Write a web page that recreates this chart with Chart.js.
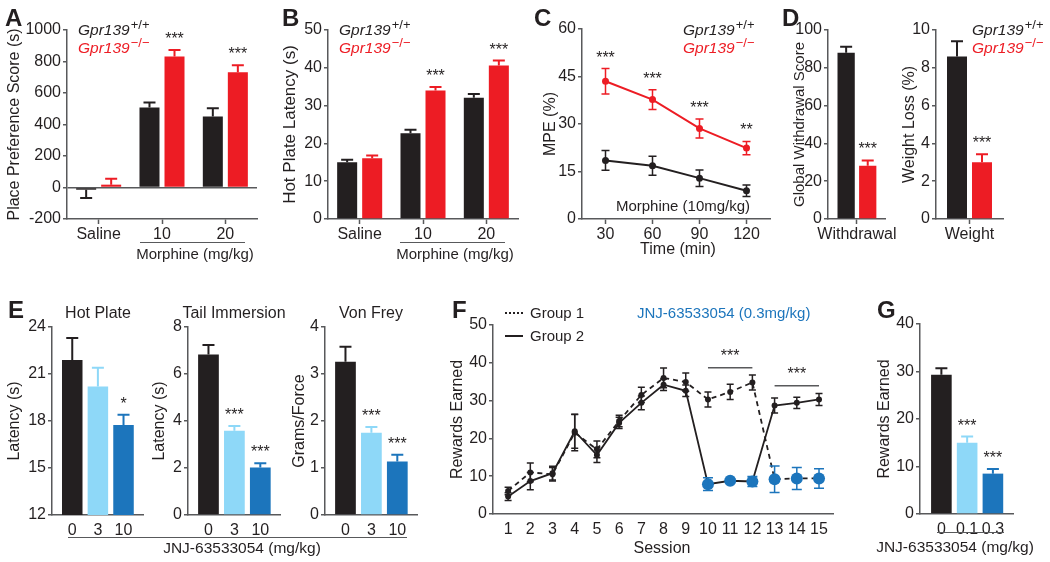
<!DOCTYPE html>
<html>
<head>
<meta charset="utf-8">
<script src="https://cdn.jsdelivr.net/npm/chart.js@4.4.1/dist/chart.umd.min.js"></script>
<style>
html,body{margin:0;padding:0;background:#fff;}
#fig{position:relative;width:1050px;height:562px;overflow:hidden;background:#fff;font-family:"Liberation Sans",Arial,Helvetica,sans-serif;color:#231f20;}
#fig canvas{position:absolute;}
.t{position:absolute;white-space:nowrap;line-height:1;}
.sup{font-size:13px;position:relative;top:-6px;margin-left:1px;font-style:normal;}
.ln{position:absolute;height:0;}
</style>
</head>
<body>
<div id="fig"></div>
<script>
// ================= DATA =================
// Panel A: place preference score (s)
const morphineCats = ['Saline', '10', '20'];
const placePrefWT = [-14, 508, 451];
const placePrefWTErr = [53, 31, 52];
const placePrefKO = [18, 831, 732];
const placePrefKOErr = [38, 42, 44];
const placePrefSig = ['', '***', '***'];
// Panel B: hot plate latency (s)
const hotPlateWT = [15.0, 22.7, 32.1];
const hotPlateWTErr = [0.7, 0.9, 1.0];
const hotPlateKO = [16.1, 34.0, 40.6];
const hotPlateKOErr = [0.7, 0.9, 1.3];
const hotPlateSig = ['', '***', '***'];
// Panel C: MPE (%) over time
const mpeTimes = [30, 60, 90, 120];
const mpeWT = [18.5, 16.8, 12.9, 8.9];
const mpeWTErr = [3.1, 3.0, 2.6, 1.8];
const mpeKO = [43.5, 37.7, 28.6, 22.4];
const mpeKOErr = [4.0, 3.1, 3.0, 2.1];
const mpeSig = ['***', '***', '***', '**'];
// Panel D: withdrawal
const withdrawalCats = ['Withdrawal'];
const withdrawalWT = [88.0];
const withdrawalWTErr = [3.2];
const withdrawalKO = [28.2];
const withdrawalKOErr = [2.8];
const withdrawalSig = ['***'];
const weightCats = ['Weight'];
const weightLossWT = [8.6];
const weightLossWTErr = [0.8];
const weightLossKO = [3.0];
const weightLossKOErr = [0.42];
const weightLossSig = ['***'];
// Panel E: JNJ-63533054 doses
const jnjDosesE = ['0', '3', '10'];
const eHotPlate = [21.9, 20.2, 17.75];
const eHotPlateErr = [1.4, 1.2, 0.65];
const eHotPlateSig = ['', '', '*'];
const eTail = [6.83, 3.58, 2.02];
const eTailErr = [0.4, 0.21, 0.18];
const eTailSig = ['', '***', '***'];
const eVonFrey = [3.26, 1.75, 1.14];
const eVonFreyErr = [0.32, 0.12, 0.14];
const eVonFreySig = ['', '***', '***'];
// Panel F: rewards earned per session
const sessions = [1, 2, 3, 4, 5, 6, 7, 8, 9, 10, 11, 12, 13, 14, 15];
const group1 = [6.1, 11.0, 10.5, 21.5, 17.1, 24.6, 31.5, 36.0, 34.9, 30.3, 32.3, 34.8, 9.2, 9.4, 9.4];
const group1Err = [1.0, 2.5, 1.8, 4.8, 2.2, 1.5, 2.0, 2.6, 2.4, 2.0, 2.0, 2.0, 3.5, 2.9, 2.6];
const group1Drug = [0, 0, 0, 0, 0, 0, 0, 0, 0, 0, 0, 0, 1, 1, 1];
const group2 = [4.6, 8.7, 10.8, 21.9, 15.6, 24.1, 29.4, 34.2, 32.6, 7.9, 8.8, 8.6, 28.7, 29.4, 30.3];
const group2Err = [1.0, 2.3, 1.8, 4.5, 2.0, 1.5, 1.8, 1.5, 1.5, 1.7, 0.5, 1.3, 2.0, 1.5, 1.6];
const group2Drug = [0, 0, 0, 0, 0, 0, 0, 0, 0, 1, 1, 1, 0, 0, 0];
const sigBracketsF = [{from: 10, to: 12, y: 38.7, label: '***'}, {from: 13, to: 15, y: 33.9, label: '***'}];
// Panel G
const jnjDosesG = ['0', '0.1', '0.3'];
const gRewards = [29.3, 15.0, 8.5];
const gRewardsErr = [1.4, 1.3, 1.0];
const gRewardsSig = ['', '***', '***'];

// ================= STYLE =================
const FONT = '"Liberation Sans", Arial, Helvetica, sans-serif';
const axisC = '#58595b', txtC = '#231f20', black = '#231f20', red = '#ed1c24', lblue = '#8ed8f8', dblue = '#1c75bc';
Chart.defaults.font.family = FONT;
Chart.defaults.color = txtC;
const fig = document.getElementById('fig');

const errPlugin = {
  id: 'errBars',
  afterDatasetsDraw(chart) {
    const ctx = chart.ctx, ys = chart.scales.y;
    chart.data.datasets.forEach((ds, di) => {
      if (!ds.err) return;
      const meta = chart.getDatasetMeta(di);
      meta.data.forEach((el, i) => {
        const raw = ds.data[i];
        const v = (raw !== null && typeof raw === 'object') ? raw.y : raw;
        const e = ds.err[i];
        const col = Array.isArray(ds.errColor) ? ds.errColor[i] : ds.errColor;
        const cap = Array.isArray(ds.errCap) ? ds.errCap[i] : ds.errCap;
        const x = el.x;
        const pv = ys.getPixelForValue(v);
        const pHi = ys.getPixelForValue(v + e), pLo = ys.getPixelForValue(v - e);
        ctx.save();
        ctx.strokeStyle = col; ctx.lineWidth = ds.errWidth || 2;
        const ends = ds.errMode === 'both' ? [pHi, pLo] : [v >= 0 ? pHi : pLo];
        ctx.beginPath();
        ends.forEach(pe => {
          ctx.moveTo(x, pv); ctx.lineTo(x, pe);
          ctx.moveTo(x - cap, pe); ctx.lineTo(x + cap, pe);
        });
        ctx.stroke();
        if (ds.sig && ds.sig[i]) {
          ctx.fillStyle = txtC; ctx.font = '16px ' + FONT;
          ctx.textAlign = 'center'; ctx.textBaseline = 'alphabetic';
          ctx.fillText(ds.sig[i], x, Math.min(pHi, pv) - 6);
        }
        ctx.restore();
      });
    });
  }
};

function makeChart(box, area, config) {
  const c = document.createElement('canvas');
  c.width = box.w; c.height = box.h;
  c.style.left = box.x + 'px'; c.style.top = box.y + 'px';
  c.style.width = box.w + 'px'; c.style.height = box.h + 'px';
  fig.appendChild(c);
  const xH = box.y + box.h - area.b, yW = area.l - box.x;
  const o = config.options;
  o.responsive = false; o.maintainAspectRatio = false; o.animation = false; o.devicePixelRatio = 1;
  o.layout = {padding: {left: 0, top: area.t - box.y, right: box.x + box.w - area.r, bottom: 0}};
  o.plugins = Object.assign({legend: {display: false}, tooltip: {enabled: false}}, o.plugins || {});
  o.scales.x.afterFit = s => { s.height = xH; };
  o.scales.y.afterFit = s => { s.width = yW; };
  config.plugins = [errPlugin].concat(config.plugins || []);
  return new Chart(c, config);
}

function yAxis(min, max, step, title, titleX, boxX, zeroLine, titleSize) {
  const ts = titleSize || 16;
  return {
    type: 'linear', min: min, max: max,
    ticks: {stepSize: step, font: {size: 16}, color: txtC, padding: 2, callback: v => String(v)},
    grid: {display: true, drawOnChartArea: !!zeroLine, drawTicks: true, tickLength: 4, tickWidth: 1.5, tickColor: axisC,
      color: zeroLine ? (c => (c.tick && c.tick.value === 0) ? axisC : 'rgba(0,0,0,0)') : axisC, lineWidth: 1.5},
    border: {display: true, color: axisC, width: 1.5},
    title: {display: true, text: title, color: txtC, font: {size: ts}, padding: {top: titleX - boxX - ts * 0.6, bottom: 0}}
  };
}
function xCat(ticksOn) {
  return {
    type: 'category', offset: true,
    grid: {display: true, offset: false, drawOnChartArea: false, drawTicks: ticksOn, tickLength: 5, tickWidth: 1.5, tickColor: axisC, color: axisC},
    border: {display: true, color: axisC, width: 1.5},
    ticks: {font: {size: 16}, color: txtC, padding: ticksOn ? 1 : 6, maxRotation: 0, autoSkip: false}
  };
}
function xLin(min, max, vals, labels, ticksOn) {
  return {
    type: 'linear', min: min, max: max, offset: false,
    afterBuildTicks: s => { s.ticks = vals.map(v => ({value: v})); },
    grid: {display: true, offset: false, drawOnChartArea: false, drawTicks: ticksOn, tickLength: 5, tickWidth: 1.5, tickColor: axisC, color: axisC},
    border: {display: true, color: axisC, width: 1.5},
    ticks: {font: {size: 16}, color: txtC, padding: ticksOn ? 1 : 6, maxRotation: 0, autoSkip: false,
      callback: (v, i) => labels[i]}
  };
}
function barDs(data, color, err, sig, catPct) {
  return {data: data, backgroundColor: color, borderWidth: 0, categoryPercentage: catPct, barPercentage: 0.8,
    err: err, errColor: color, errCap: 6, errMode: 'up', errWidth: 2, sig: sig};
}
function idx(arr) { return arr.map((v, i) => ({x: i, y: v})); }
function pts(xs, ys) { return xs.map((x, i) => ({x: x, y: ys[i]})); }

// ----- Panel A -----
makeChart({x: 0, y: 5, w: 262, h: 243}, {l: 67, r: 257, t: 30, b: 219}, {
  type: 'bar',
  data: {labels: morphineCats, datasets: [
    barDs(placePrefWT, black, placePrefWTErr, null, 0.79),
    barDs(placePrefKO, red, placePrefKOErr, placePrefSig, 0.79)]},
  options: {scales: {x: xCat(true), y: yAxis(-200, 1000, 200, 'Place Preference Score (s)', 15, 0, true)}}
});
// ----- Panel B -----
makeChart({x: 262, y: 5, w: 262, h: 243}, {l: 328, r: 518, t: 30, b: 219}, {
  type: 'bar',
  data: {labels: morphineCats, datasets: [
    barDs(hotPlateWT, black, hotPlateWTErr, null, 0.79),
    barDs(hotPlateKO, red, hotPlateKOErr, hotPlateSig, 0.79)]},
  options: {scales: {x: xCat(true), y: yAxis(0, 50, 10, 'Hot Plate Latency (s)', 290, 262, false, 17)}}
});
// ----- Panel C -----
function lineDs(data, color, err, sig) {
  return {data: data, borderColor: color, backgroundColor: color, borderWidth: 2, pointRadius: 3.5, pointBorderWidth: 0,
    pointBackgroundColor: color, tension: 0, err: err, errColor: color, errCap: 4, errMode: 'both', errWidth: 1.5, sig: sig};
}
makeChart({x: 524, y: 5, w: 256, h: 243}, {l: 582, r: 770, t: 29, b: 219}, {
  type: 'line',
  data: {datasets: [
    lineDs(pts(mpeTimes, mpeWT), black, mpeWTErr, null),
    lineDs(pts(mpeTimes, mpeKO), red, mpeKOErr, mpeSig)]},
  options: {scales: {x: xLin(15, 135, mpeTimes, mpeTimes.map(String), true), y: yAxis(0, 60, 15, 'MPE (%)', 551, 524)}}
});
// ----- Panel D -----
makeChart({x: 780, y: 5, w: 120, h: 243}, {l: 828, r: 895, t: 30, b: 219}, {
  type: 'bar',
  data: {labels: withdrawalCats, datasets: [
    barDs(withdrawalWT, black, withdrawalWTErr, null, 0.746),
    barDs(withdrawalKO, red, withdrawalKOErr, withdrawalSig, 0.746)]},
  options: {scales: {x: xCat(true), y: yAxis(0, 100, 20, 'Global Withdrawal Score', 800, 780, false, 15)}}
});
makeChart({x: 900, y: 5, w: 150, h: 243}, {l: 936, r: 1003, t: 30, b: 219}, {
  type: 'bar',
  data: {labels: weightCats, datasets: [
    barDs(weightLossWT, black, weightLossWTErr, null, 0.746),
    barDs(weightLossKO, red, weightLossKOErr, weightLossSig, 0.746)]},
  options: {scales: {x: xCat(true), y: yAxis(0, 10, 2, 'Weight Loss (%)', 910, 900)}}
});
// ----- Panel E -----
const eColors = [black, lblue, dblue];
function eChart(box, area, vals, errs, sig, ymin, ymax, step, title, titleX) {
  const ds = barDs(idx(vals), eColors, errs, sig, 1);
  makeChart(box, area, {
    type: 'bar', data: {datasets: [ds]},
    options: {scales: {x: xLin(-0.79, 2.76, [0, 1, 2], jnjDosesE, false), y: yAxis(ymin, ymax, step, title, titleX, box.x)}}
  });
}
eChart({x: 0, y: 300, w: 145, h: 245}, {l: 52, r: 143, t: 327, b: 515}, eHotPlate, eHotPlateErr, eHotPlateSig, 12, 24, 3, 'Latency (s)', 15);
eChart({x: 145, y: 300, w: 140, h: 245}, {l: 188, r: 280, t: 327, b: 515}, eTail, eTailErr, eTailSig, 0, 8, 2, 'Latency (s)', 160);
eChart({x: 285, y: 300, w: 135, h: 245}, {l: 325, r: 417, t: 327, b: 515}, eVonFrey, eVonFreyErr, eVonFreySig, 0, 4, 1, 'Grams/Force', 300);
// ----- Panel F -----
function fDs(vals, errs, drug, dash) {
  return {data: pts(sessions, vals), borderColor: black, borderWidth: 1.8, borderDash: dash, tension: 0,
    pointRadius: drug.map(d => d ? 6 : 3), pointBorderWidth: 0, pointBorderColor: 'rgba(0,0,0,0)',
    pointBackgroundColor: drug.map(d => d ? dblue : black),
    err: errs, errColor: drug.map(d => d ? dblue : black), errCap: drug.map(d => d ? 5 : 3.5), errMode: 'both', errWidth: 1.5};
}
const bracketPlugin = {
  id: 'brackets',
  afterDatasetsDraw(chart) {
    const ctx = chart.ctx, xs = chart.scales.x, ys = chart.scales.y;
    sigBracketsF.forEach(b => {
      const x1 = xs.getPixelForValue(b.from), x2 = xs.getPixelForValue(b.to), y = ys.getPixelForValue(b.y);
      ctx.save();
      ctx.strokeStyle = axisC; ctx.lineWidth = 1.5;
      ctx.beginPath(); ctx.moveTo(x1, y); ctx.lineTo(x2, y); ctx.stroke();
      ctx.fillStyle = txtC; ctx.font = '16px ' + FONT; ctx.textAlign = 'center'; ctx.textBaseline = 'alphabetic';
      ctx.fillText(b.label, (x1 + x2) / 2, y - 7);
      ctx.restore();
    });
  }
};
makeChart({x: 420, y: 300, w: 420, h: 245}, {l: 493, r: 833, t: 325, b: 514}, {
  type: 'line',
  data: {datasets: [fDs(group1, group1Err, group1Drug, [5, 4]), fDs(group2, group2Err, group2Drug, [])]},
  options: {scales: {x: xLin(0.32, 15.63, sessions, sessions.map(String), false), y: yAxis(0, 50, 10, 'Rewards Earned', 458, 420)}},
  plugins: [bracketPlugin]
});
// ----- Panel G -----
makeChart({x: 860, y: 300, w: 190, h: 245}, {l: 920, r: 1013, t: 324, b: 514}, {
  type: 'bar',
  data: {datasets: [barDs(idx(gRewards), eColors, gRewardsErr, gRewardsSig, 1)]},
  options: {scales: {x: xLin(-0.83, 2.78, [0, 1, 2], jnjDosesG, false), y: yAxis(0, 40, 10, 'Rewards Earned', 885, 860)}}
});

// ================= TEXT =================
function txt(html, x, base, size, o) {
  o = o || {};
  const d = document.createElement('div');
  d.className = 't';
  d.innerHTML = html;
  d.style.fontSize = size + 'px';
  d.style.top = (base - 0.8465 * size) + 'px';
  d.style.left = x + 'px';
  if (o.center) d.style.transform = 'translateX(-50%)';
  if (o.bold) d.style.fontWeight = 'bold';
  if (o.color) d.style.color = o.color;
  fig.appendChild(d);
}
function hline(x1, x2, y, style) {
  const d = document.createElement('div');
  d.className = 'ln';
  d.style.left = x1 + 'px'; d.style.width = (x2 - x1) + 'px'; d.style.top = (y - 0.75) + 'px';
  d.style.borderTop = style || ('1.5px solid ' + axisC);
  fig.appendChild(d);
}
// panel letters
[['A', 5, 26], ['B', 282, 26], ['C', 534, 26], ['D', 782, 26], ['E', 8, 318], ['F', 452, 318], ['G', 877, 318]]
  .forEach(l => txt(l[0], l[1], l[2], 24, {bold: true}));
// genotype legends
[78, 339, 683, 972].forEach(x => {
  txt('<i>Gpr139</i><span class="sup">+/+</span>', x, 35, 15.5);
  txt('<i>Gpr139</i><span class="sup">\u2212/\u2212</span>', x, 53, 15.5, {color: red});
});
// A/B group labels
hline(140, 245, 243); txt('Morphine (mg/kg)', 195, 259, 15, {center: true});
hline(400, 505, 243); txt('Morphine (mg/kg)', 455, 259, 15, {center: true});
// C
txt('Morphine (10mg/kg)', 683, 211, 15, {center: true});
txt('Time (min)', 678, 255, 16, {center: true});
// E
txt('Hot Plate', 98, 319, 16, {center: true});
txt('Tail Immersion', 234, 319, 16, {center: true});
txt('Von Frey', 371, 319, 16, {center: true});
hline(68, 407, 538); txt('JNJ-63533054 (mg/kg)', 242, 553, 15.5, {center: true});
// F
hline(505, 523, 313, '2px dotted ' + black);
hline(505, 523, 336, '2px solid ' + black);
txt('Group 1', 530, 318, 15);
txt('Group 2', 530, 341, 15);
txt('JNJ-63533054 (0.3mg/kg)', 637, 318, 15, {color: dblue});
txt('Session', 662, 554, 16, {center: true});
// G
hline(937, 1004, 533); txt('JNJ-63533054 (mg/kg)', 955, 552, 15.5, {center: true});
</script>
</body>
</html>
